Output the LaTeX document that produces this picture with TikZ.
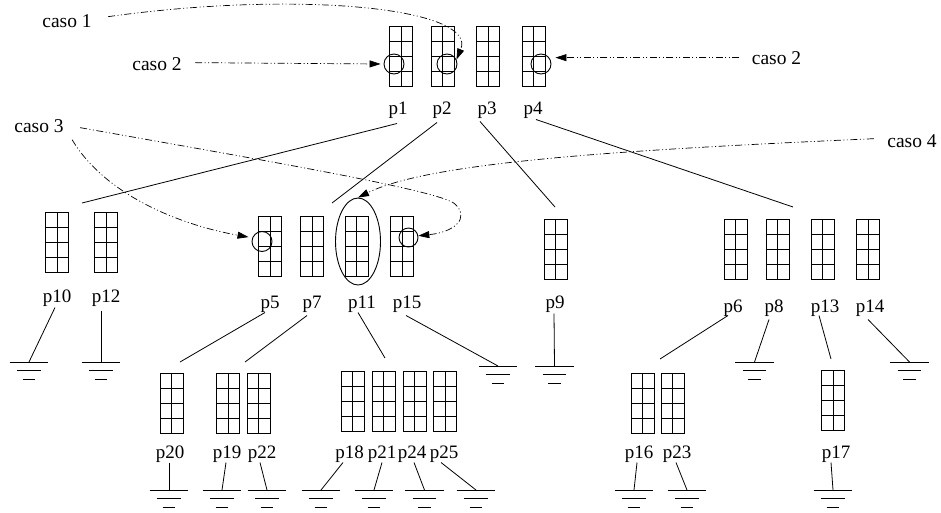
\documentclass[tikz,border=0pt]{standalone}
\usepackage{fontspec}
\setmainfont{Liberation Serif}
\newfontfamily\serifa{Liberation Serif}
\usetikzlibrary{arrows.meta,calc,shapes.geometric}

\begin{document}
\begin{tikzpicture}[x=1pt,y=-1pt,
  line width=0.9pt,
  bloco/.style={draw, inner sep=0pt, minimum width=23pt, minimum height=60pt,
    path picture={
      \draw (path picture bounding box.north) -- (path picture bounding box.south);
      \foreach \f in {0.25,0.5,0.75}
        \draw ($(path picture bounding box.north west)!\f!(path picture bounding box.south west)$)
           -- ($(path picture bounding box.north east)!\f!(path picture bounding box.south east)$);
    }},
  rotulo/.style={inner sep=0pt, anchor=base, font=\serifa\fontsize{19}{21}\selectfont},
  caso/.style={inner sep=0pt, anchor=base, font=\serifa\fontsize{19.5}{22}\selectfont},
  marca/.style={draw, circle, inner sep=0pt, minimum size=20pt},
  terra/.style={inner sep=0pt, minimum width=38pt, minimum height=16pt, anchor=north},
  ramo/.style={line width=0.8pt},
  seta/.style={line width=0.7pt,
    dash pattern=on 7pt off 2.5pt on 1pt off 2.5pt on 1pt off 2.5pt,
    -{Triangle[length=11pt,width=7pt]}},
]
\path[fill=white,use as bounding box] (0,0) rectangle (941,512);

% memory blocks (2 x 4 grids)
\foreach \n/\x/\y in {b1/401/56, b2/442.5/56, b3/488/56, b4/533.5/56,
    b10/57/242, b12/106/242,
    b5/270/246, b7/312/246, b11/356.5/246, b15/402/246,
    b9/555.5/249,
    b6/735.5/249, b8/777.5/249, b13/822.5/249, b14/868/249,
    b20/171.5/403.5, b19/228/403.5, b22/258.5/403.5,
    b18/352.5/401.5, b21/383.5/401.5, b24/414.5/401.5, b25/445/401.5,
    b16/642.5/403.5, b23/672.5/403.5, b17/833/400}
  \node[bloco] (\n) at (\x,\y) {};

% process labels
\foreach \n/\x/\y in {p1/398/114, p2/442/114, p3/487/114, p4/533/114,
    p10/57/302, p12/106/302,
    p5/270/308, p7/312/308, p11/362/308, p15/407/308,
    p9/555/308,
    p6/733/312, p8/774/312, p13/825/312, p14/870/312,
    p20/170/458, p19/227/458, p22/262/458,
    p18/349.5/458, p21/382/458, p24/412/458, p25/444/458,
    p16/639/458, p23/677/458, p17/836/458}
  \node[rotulo] (\n) at (\x,\y) {\n};

% marked pages
\node[marca] (c1) at (394,64) {};
\node[marca] (c2) at (447,64) {};
\node[marca] (c4) at (541,64) {};
\node[marca] (c5) at (262,241.5) {};
\node[marca, minimum size=19pt] (c15) at (408.5,237.5) {};
\node[draw, ellipse, inner sep=0pt, minimum width=45pt, minimum height=87pt] (e11) at (358,241.5) {};

% ground symbols
\foreach \n/\x/\y in {t10/29/362, t12/101/362, t15/498/366, t9/554.5/366,
    t8/754.5/362, t14/909.5/362,
    t20/169/490, t19/222/490, t22/267/490, t18/321/490, t21/374/490,
    t24/424.5/490, t25/476/490, t16/634/490, t23/687/490, t17/833/490}
  \node[terra] (\n) at (\x,\y) {};
\foreach \n in {t10,t12,t15,t9,t8,t14,t20,t19,t22,t18,t21,t24,t25,t16,t23,t17}
  \draw[ramo] (\n.north west) -- (\n.north east)
    ([xshift=7.5pt]\n.west) -- ([xshift=-7.5pt]\n.east)
    ([xshift=13pt]\n.south west) -- ([xshift=-13pt]\n.south east);

% branch points of the tree
\coordinate (r1) at (82,203);
\coordinate (r2) at (332,203);
\coordinate (r3) at (555,207);
\coordinate (r4) at (793,207);
\coordinate (r5) at (180,362);
\coordinate (r7) at (245,362);
\coordinate (r11) at (385,358);
\coordinate (r6) at (660,359);
\coordinate (r13) at (831,359);

% tree edges
\foreach \a/\dx/\dy/\b in {p1/-1/5/r1, p2/-5/4/r2, p3/-7/3/r3, p4/3/1/r4,
    p10/-2/1/t10.north, p12/-5/4/t12.north, p5/-5/0/r5, p7/-5/3/r7,
    p11/-4/0/r11, p15/-1/3/t15.north, p9/-1/1/t9.north,
    p6/-5/-1/r6, p8/-5/3/t8.north, p13/-6/-1/r13, p14/-2/3/t14.north,
    p20/-1/0/t20.north, p19/-1/0/t19.north, p22/-2/0/t22.north,
    p18/-6.5/0/t18.north, p21/0/0/t21.north, p24/2/0/t24.north,
    p25/-3/0/t25.north, p16/-2/0/t16.north, p23/-1/0/t23.north,
    p17/-5/0/t17.north}
  \draw[ramo] ([shift={(\dx,\dy)}]\a.south) -- (\b);

% case annotations
\node[caso] (k1) at (67,27) {caso 1};
\node[caso] (k2a) at (157,70) {caso 2};
\node[caso] (k2b) at (776.5,64) {caso 2};
\node[caso] (k3) at (39,132) {caso 3};
\node[caso] (k4) at (912,147) {caso 4};

\draw[seta] ([shift={(16,-4)}]k1.east) .. controls (300,-10) and (478,8) .. (c2.25);
\draw[seta] ([shift={(13,-1)}]k2a.east) -- ([xshift=-3pt]c1.west);
\draw[seta] ([xshift=-12pt]k2b.west) -- ($(c4.east |- k2b.west)+(4,0)$);
\draw[seta] ([shift={(16,2)}]k3.east) .. controls (250,158) and (440,190) .. (455,204)
   .. controls (470,218) and (455,232) .. (c15.10);
\draw[seta] ([shift={(8,14)}]k3.east) .. controls (105,195) and (180,225) .. ([xshift=-4pt]c5.155);
\draw[seta] ([shift={(-13,-2)}]k4.west) .. controls (620,150) and (430,162) .. (e11.north);
\end{tikzpicture}
\end{document}
